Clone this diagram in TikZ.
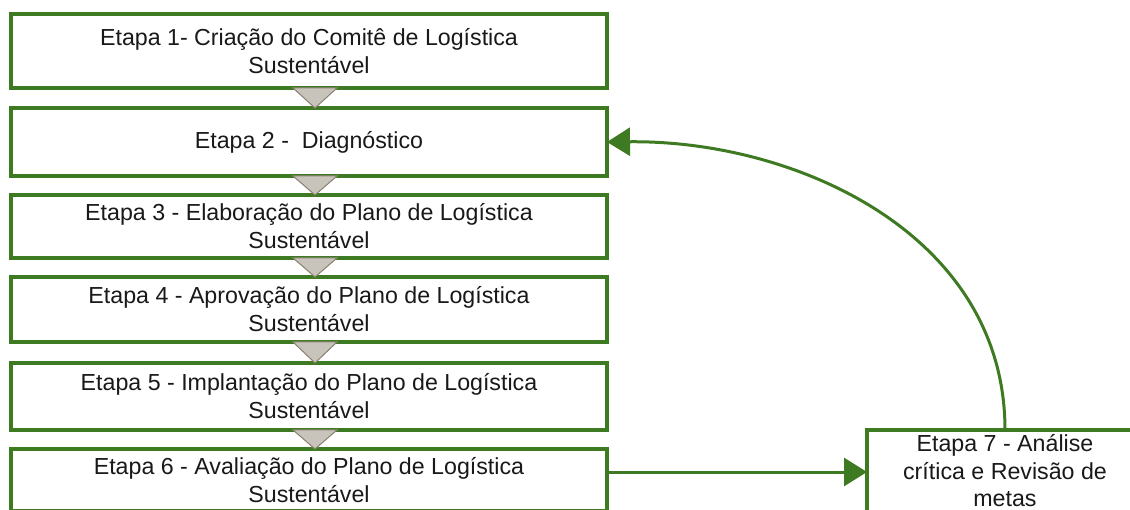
\documentclass[tikz,border=0pt]{standalone}
\usepackage{fontspec}
\setmainfont{Liberation Sans}
\usetikzlibrary{arrows.meta,calc}
\definecolor{gframe}{RGB}{62,122,34}
\definecolor{trifill}{RGB}{200,196,188}
\definecolor{triedge}{RGB}{138,128,112}
\definecolor{txt}{RGB}{25,25,25}
\begin{document}
\begin{tikzpicture}[x=1pt,y=-1pt,
  stage/.style={draw=gframe,line width=3.5pt,fill=white,rectangle,outer sep=0pt,inner sep=2pt,
    minimum width=596pt,align=center,text=txt,
    font=\fontsize{23.2}{28}\selectfont},
  tri/.style={fill=trifill,draw=triedge,line width=1pt,line join=miter},
  garrow/.style={draw=gframe,line width=3pt,-{Triangle[length=23pt,width=28pt]}}
]
\useasboundingbox (0,0) rectangle (1130,510);
\clip (0,0) rectangle (1130,510);
\node[stage,minimum height=74pt] (n1) at (309,51) {Etapa 1- Criação do Comitê de Logística\\Sustentável};
\node[stage,minimum height=68pt] (n2) at (309,142) {Etapa 2 -\ \ Diagnóstico};
\node[stage,minimum height=63pt] (n3) at (309,226.5) {Etapa 3 - Elaboração do Plano de Logística\\Sustentável};
\node[stage,minimum height=65pt] (n4) at (309,309.5) {Etapa 4 - Aprovação do Plano de Logística\\Sustentável};
\node[stage,minimum height=67pt] (n5) at (309,396.5) {Etapa 5 - Implantação do Plano de Logística\\Sustentável};
\node[stage,minimum height=62pt] (n6) at (309,480) {Etapa 6 - Avaliação do Plano de Logística\\Sustentável};
\node[stage,minimum width=276pt,minimum height=82pt,font=\fontsize{23.2}{27.5}\selectfont] (n7) at (1005,471) {Etapa 7 - Análise\\crítica e Revisão de\\metas};
\foreach \a/\b in {n1/n2,n2/n3,n3/n4,n4/n5,n5/n6}{
  \path[tri] ([xshift=-16pt]\a.south) -- ([xshift=28pt]\a.south) -- ([xshift=6pt]\b.north) -- cycle;
}
\draw[garrow] (n7.north) .. controls +(0,-195) and +(190,-2) .. (n2.east);
\coordinate (a6) at ([yshift=8pt]n6.east);
\draw[garrow] (a6) -- (a6 -| n7.west);
\end{tikzpicture}
\end{document}
